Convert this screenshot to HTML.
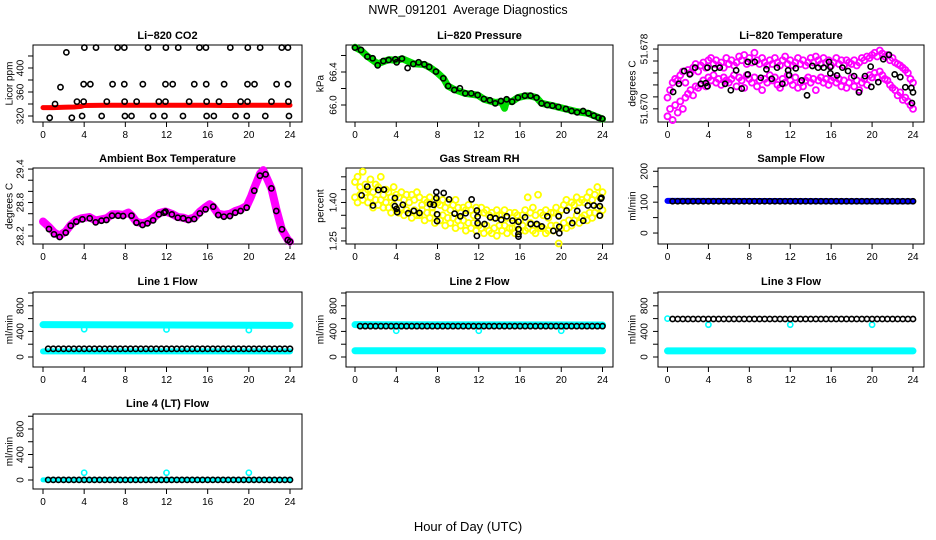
<!DOCTYPE html>
<html><head><meta charset="utf-8"><style>
html,body{margin:0;padding:0;background:#fff;}
svg{display:block;font-family:"Liberation Sans",Arial,sans-serif;}
</style></head><body>
<svg id="c" width="936" height="540" viewBox="0 0 936 540" xmlns="http://www.w3.org/2000/svg">
<text x="468" y="14" text-anchor="middle" font-size="12.5" style="white-space:pre">NWR_091201  Average Diagnostics</text>
<text x="468" y="531" text-anchor="middle" font-size="13">Hour of Day (UTC)</text>
</svg>
<script>
// ---------- data ----------
const xTicks = [0,4,8,12,16,20,24];
const hh = [0.5,1,1.5,2,2.5,3,3.5,4,4.5,5,5.5,6,6.5,7,7.5,8,8.5,9,9.5,10,10.5,11,11.5,12,12.5,13,13.5,14,14.5,15,15.5,16,16.5,17,17.5,18,18.5,19,19.5,20,20.5,21,21.5,22,22.5,23,23.5,24];
const qh = [0,0.25,0.5,0.75,1,1.25,1.5,1.75,2,2.25,2.5,2.75,3,3.25,3.5,3.75,4,4.25,4.5,4.75,5,5.25,5.5,5.75,6,6.25,6.5,6.75,7,7.25,7.5,7.75,8,8.25,8.5,8.75,9,9.25,9.5,9.75,10,10.25,10.5,10.75,11,11.25,11.5,11.75,12,12.25,12.5,12.75,13,13.25,13.5,13.75,14,14.25,14.5,14.75,15,15.25,15.5,15.75,16,16.25,16.5,16.75,17,17.25,17.5,17.75,18,18.25,18.5,18.75,19,19.25,19.5,19.75,20,20.25,20.5,20.75,21,21.25,21.5,21.75,22,22.25,22.5,22.75,23,23.25,23.5,23.75,24];

// CO2
const co2RedHrs = [0,1,2,3,3.7,4,6,8,10,12,14,16,18,20,22,24];
const co2RedVals = [334,334,334.5,335,336,337.5,338,338,338,338,338,338,337.5,338,338,338];
const co2Hrs = [2.27,4.02,5.15,7.25,7.9,10.2,11.94,13.14,15.2,15.83,18.2,19.9,21.1,23.2,23.8,
 1.7,3.95,4.6,6.76,7.9,9.7,11.9,12.6,14.7,15.86,17.6,19.87,20.55,22.7,23.8,
 1.17,3.3,3.95,6.2,7.93,9.1,11.26,11.9,14.2,15.9,17.1,19.2,19.87,22.2,23.85,
 0.65,2.8,3.8,5.7,7.96,8.6,10.7,11.8,13.6,15.9,16.6,18.7,19.8,21.6,23.9];
const co2Vals = [426,434,434,434,434,434,434,434,434,434,434,434,434,434,434,
 368,373,373,373,373,373,373,373,373,373,373,373,373,373,373,
 340,344,344,344,344,344,344,344,344,344,344,344,344,344,344,
 317,317,320,320,320,320,320,320,320,320,320,320,320,320,320];

// Pressure
const presHrs = [0,0.58,1.2,1.71,2.2,2.75,3.26,3.91,4.04,4.55,5.1,5.65,6.17,6.72,7.2,7.85,8.56,9.04,9.63,10.17,10.69,11.27,11.89,12.5,13.08,13.6,14.15,14.7,15.24,15.8,16.47,17.02,17.6,18.09,18.64,19.15,19.73,20.45,21.0,21.54,22.12,22.64,23.16,23.61,23.97];
const presVals = [66.695,66.667,66.586,66.566,66.481,66.533,66.545,66.554,66.517,66.562,66.448,66.497,66.517,66.493,66.461,66.404,66.323,66.230,66.182,66.202,66.141,66.141,66.121,66.073,66.057,66.020,66.048,66.069,66.040,66.089,66.113,66.113,66.089,66.020,66.000,65.992,65.976,65.952,65.927,65.911,65.927,65.899,65.871,65.846,65.834];
const presGreenHrs = [0,0.6,1.2,2.2,3.3,4.0,4.6,5.7,6.7,7.2,7.9,8.6,9.0,9.6,10.7,11.9,12.5,13.6,14.2,14.5,14.7,15.2,15.8,16.5,17.0,17.6,18.1,19.2,20.5,21.5,22.6,23.2,24.0];
const presGreenVals = [66.70,66.66,66.59,66.50,66.55,66.54,66.56,66.50,66.49,66.46,66.40,66.32,66.23,66.19,66.14,66.12,66.07,66.03,66.04,65.96,66.05,66.04,66.09,66.11,66.11,66.09,66.02,65.99,65.95,65.92,65.90,65.87,65.83];

// Li-820 temperature
const tempHrs = [0.55,1.11,1.63,2.18,2.7,3.26,3.74,3.91,3.91,4.62,5.11,5.63,6.19,6.71,7.26,7.85,7.85,8.53,9.12,9.67,10.19,10.71,11.23,11.79,11.89,12.54,13.12,13.64,14.16,14.72,15.27,15.79,15.92,15.92,16.57,17.1,17.65,18.24,18.72,19.31,19.86,19.93,20.61,21.1,21.65,22.21,22.76,23.25,23.84,24.0,23.9];
const tempVals = [51.67226,51.67335,51.67506,51.67461,51.67551,51.67335,51.67344,51.67551,51.67303,51.67542,51.67551,51.67335,51.67249,51.67515,51.67271,51.67628,51.67461,51.67628,51.67416,51.67529,51.67402,51.67551,51.67335,51.67515,51.67452,51.67542,51.67380,51.67181,51.67574,51.67551,51.67551,51.67628,51.67560,51.67475,51.67447,51.67551,51.67506,51.67438,51.67221,51.67438,51.67565,51.67294,51.67357,51.67664,51.67723,51.67461,51.67425,51.67289,51.67280,51.67221,51.67077];
const tempCloudHi = [51.6715,51.6725,51.6735,51.6740,51.6738,51.6745,51.6750,51.6735,51.6752,51.6748,51.6755,51.6760,51.6750,51.6758,51.6762,51.6755,51.6765,51.6768,51.6760,51.6765,51.6758,51.6762,51.6755,51.6768,51.6760,51.6765,51.6758,51.6762,51.6770,51.6765,51.6772,51.6760,51.6768,51.6762,51.6775,51.6765,51.6760,51.6768,51.6762,51.6758,51.6765,51.6760,51.6768,51.6762,51.6758,51.6765,51.6770,51.6760,51.6765,51.6758,51.6762,51.6768,51.6760,51.6765,51.6758,51.6762,51.6768,51.6762,51.6770,51.6765,51.6760,51.6768,51.6762,51.6765,51.6758,51.6762,51.6768,51.6760,51.6765,51.6758,51.6765,51.6762,51.6760,51.6765,51.6758,51.6762,51.6768,51.6765,51.6770,51.6768,51.6772,51.6775,51.6770,51.6778,51.6774,51.6770,51.6772,51.6765,51.6768,51.6762,51.6760,51.6758,51.6755,51.6752,51.6748,51.6740,51.6735];
const tempCloudLo = [51.6690,51.6700,51.6685,51.6705,51.6695,51.6710,51.6700,51.6715,51.6720,51.6725,51.6718,51.6730,51.6728,51.6732,51.6738,51.6730,51.6742,51.6738,51.6745,51.6735,51.6740,51.6732,51.6742,51.6738,51.6735,51.6740,51.6745,51.6730,51.6742,51.6738,51.6728,51.6745,51.6740,51.6735,51.6742,51.6730,51.6738,51.6725,51.6740,51.6735,51.6745,51.6738,51.6742,51.6732,51.6728,51.6740,51.6735,51.6745,51.6738,51.6732,51.6742,51.6728,51.6735,51.6730,51.6738,51.6742,51.6735,51.6740,51.6725,51.6738,51.6742,51.6735,51.6740,51.6732,51.6738,51.6742,51.6735,51.6740,51.6730,51.6738,51.6728,51.6735,51.6742,51.6730,51.6738,51.6725,51.6735,51.6740,51.6732,51.6745,51.6742,51.6748,51.6742,51.6750,51.6745,51.6740,51.6738,51.6732,51.6728,51.6725,51.6718,51.6722,51.6712,51.6715,51.6710,51.6705,51.6700];

// Ambient box temperature
const ambHrs = [0.58,1.07,1.62,2.21,2.69,3.24,3.83,4.54,5.12,5.68,6.16,6.71,7.3,7.78,8.6,9.08,9.67,10.15,10.7,11.26,11.77,11.9,12.52,13.1,13.62,14.14,14.69,15.24,15.8,16.54,17.03,17.58,18.16,18.68,19.2,19.79,20.53,21.08,21.63,22.19,22.67,23.22,23.78,24.0];
const ambVals = [28.325,28.23,28.182,28.26,28.385,28.457,28.499,28.517,28.445,28.475,28.487,28.564,28.564,28.558,28.564,28.439,28.397,28.427,28.481,28.588,28.618,28.636,28.588,28.528,28.517,28.487,28.505,28.606,28.678,28.726,28.576,28.546,28.558,28.618,28.648,28.708,29.012,29.281,29.305,29.054,28.648,28.32,28.128,28.098];
const ambBandHrs = [0,0.6,1.1,1.6,2.2,2.7,3.2,3.8,4.5,5.1,5.7,6.2,6.7,7.3,7.8,8.3,8.6,9.1,9.7,10.2,10.7,11.3,11.9,12.5,13.1,13.6,14.1,14.7,15.2,15.8,16.2,16.5,17.0,17.6,18.2,18.7,19.2,19.8,20.2,20.5,21.1,21.4,21.6,22.2,22.7,23.2,23.8,24.0];
const ambBandVals = [28.46,28.36,28.26,28.21,28.28,28.40,28.48,28.52,28.54,28.48,28.50,28.52,28.59,28.59,28.58,28.62,28.57,28.45,28.43,28.46,28.52,28.61,28.64,28.60,28.54,28.53,28.50,28.53,28.63,28.72,28.77,28.73,28.60,28.58,28.60,28.65,28.68,28.74,28.90,29.05,29.32,29.38,29.30,29.05,28.66,28.32,28.13,28.10];

// Gas stream RH
const rhHrs = [0.64,1.19,1.74,2.26,2.8,3.87,3.87,4.03,4.09,4.64,5.15,5.7,6.25,7.28,7.64,7.89,7.89,7.96,7.96,8.6,9.12,9.66,10.21,10.73,11.31,11.82,11.82,11.89,11.89,12.56,13.11,13.63,14.18,14.72,15.27,15.85,15.85,15.85,15.85,16.49,17.04,17.62,18.11,18.65,19.23,19.75,19.81,19.81,20.52,21.07,21.55,22.13,22.58,23.16,23.74,23.74,23.84,23.9];
const rhVals = [1.4277,1.4619,1.3881,1.4487,1.4501,1.4171,1.3855,1.3750,1.3618,1.3908,1.3578,1.3671,1.3592,1.3934,1.3908,1.4408,1.4171,1.3539,1.3275,1.4369,1.4119,1.3565,1.3460,1.3578,1.4119,1.3684,1.2696,1.3447,1.3196,1.3157,1.3420,1.3381,1.3328,1.3460,1.3289,1.3249,1.2959,1.2762,1.2669,1.3420,1.3157,1.3157,1.3065,1.3460,1.2893,1.3460,1.2801,1.3051,1.3684,1.3196,1.3671,1.3289,1.3881,1.3881,1.3855,1.3486,1.4145,1.4185];
const rhCloudHi = [1.48,1.50,1.46,1.52,1.47,1.45,1.49,1.44,1.47,1.46,1.50,1.43,1.45,1.44,1.42,1.46,1.43,1.42,1.44,1.41,1.43,1.40,1.43,1.41,1.44,1.42,1.39,1.41,1.40,1.42,1.38,1.41,1.40,1.39,1.41,1.38,1.40,1.37,1.39,1.41,1.38,1.36,1.38,1.37,1.39,1.37,1.35,1.38,1.36,1.38,1.36,1.37,1.35,1.36,1.34,1.37,1.35,1.35,1.37,1.34,1.36,1.34,1.36,1.35,1.33,1.35,1.37,1.42,1.36,1.38,1.35,1.43,1.36,1.35,1.37,1.34,1.36,1.36,1.38,1.35,1.37,1.39,1.41,1.38,1.40,1.39,1.42,1.40,1.41,1.40,1.42,1.44,1.41,1.43,1.46,1.42,1.44];
const rhCloudLo = [1.42,1.40,1.43,1.41,1.44,1.40,1.42,1.38,1.41,1.39,1.41,1.38,1.40,1.38,1.36,1.39,1.37,1.36,1.38,1.35,1.37,1.36,1.34,1.37,1.35,1.35,1.37,1.33,1.36,1.34,1.36,1.32,1.35,1.33,1.35,1.31,1.34,1.32,1.34,1.30,1.33,1.31,1.33,1.29,1.32,1.30,1.32,1.29,1.31,1.30,1.28,1.31,1.29,1.28,1.30,1.27,1.31,1.29,1.31,1.28,1.30,1.30,1.28,1.31,1.29,1.31,1.29,1.30,1.32,1.29,1.28,1.31,1.30,1.30,1.28,1.29,1.31,1.29,1.31,1.24,1.30,1.32,1.30,1.33,1.31,1.33,1.35,1.32,1.34,1.35,1.33,1.36,1.34,1.36,1.38,1.35,1.37];

// Flows
const bandHrs = [0,24];
const dipHrs = [4,12,20];
const sampBand = [104,103];
const sampBlack = [103,103,103,103,103,103,103,103,103,103,103,103,103,103,103,103,103,103,103,103,103,103,103,103,103,103,103,103,103,103,103,103,103,103,103,103,103,103,103,103,103,103,103,103,103,103,103,103];
const l1Hi = [505,495];
const l1Lo = [88,88];
const l1Dip = [435,430,420];
const l1Black = [128,128,128,128,128,128,128,128,128,128,128,128,128,128,128,128,128,128,128,128,128,128,128,128,128,128,128,128,128,128,128,128,128,128,128,128,128,128,128,128,128,128,128,128,128,128,128,128];
const l2Hi = [505,500];
const l2Lo = [98,98];
const l2Dip = [410,410,410];
const l2Black = [482,482,482,482,482,482,482,482,482,482,482,482,482,482,482,482,482,482,482,482,482,482,482,482,482,482,482,482,482,482,482,482,482,482,482,482,482,482,482,482,482,482,482,482,482,482,482,482];
const l3Lo = [95,95];
const l3Dip = [505,505,505];
const l3Black = [594,594,594,594,594,594,594,594,594,594,594,594,594,594,594,594,594,594,594,594,594,594,594,594,594,594,594,594,594,594,594,594,594,594,594,594,594,594,594,594,594,594,594,594,594,594,594,594];
const l4Lo = [3,3];
const l4Dip = [114,114,114];
const l4Black = [2,2,2,2,2,2,2,2,2,2,2,2,2,2,2,2,2,2,2,2,2,2,2,2,2,2,2,2,2,2,2,2,2,2,2,2,2,2,2,2,2,2,2,2,2,2,2,2];

// ---------- drawing ----------
const svg = document.getElementById('c');
const NS = 'http://www.w3.org/2000/svg';
function mk(tag, attrs, parent){const e=document.createElementNS(NS,tag);for(const k in attrs)e.setAttribute(k,attrs[k]);(parent||svg).appendChild(e);return e;}

const cols = [{x0:33,x1:302,t0:43,t24:290,ylabX:9,ytX:20},{x0:346,x1:613,t0:355,t24:602.5,ylabX:320,ytX:333},{x0:658,x1:924,t0:667.5,t24:913,ylabX:632,ytX:644}];
const rows = [{y0:45,y1:122,title:35},{y0:168,y1:244,title:158},{y0:292,y1:367,title:281},{y0:414,y1:489,title:403}];

function panel(name,title,ci,ri,ymin,ymax,ticks,labels,ylab){
  const c=cols[ci],r=rows[ri];
  const g=mk('g',{});
  
  
  const p={g,sx:h=>c.t0+h*(c.t24-c.t0)/24,sy:v=>r.y1-(v-ymin)/(ymax-ymin)*(r.y1-r.y0)};
  const cx=(c.x0+c.x1)/2;
  const t=mk('text',{x:cx,y:r.title+4,'text-anchor':'middle','font-size':11,'font-weight':'bold'},g);
  t.textContent=title;
  
  
  const box=mk('rect',{x:c.x0,y:r.y0,width:c.x1-c.x0,height:r.y1-r.y0,fill:'none',stroke:'#000','stroke-width':1},g);
  
  
  xTicks.forEach(h=>{const x=p.sx(h);mk('line',{x1:x,y1:r.y1,x2:x,y2:r.y1+5,stroke:'#000'},g);
    const l=mk('text',{x:x,y:r.y1+16,'text-anchor':'middle','font-size':10},g);l.textContent=h;
    
    });
  ticks.forEach((v,i)=>{const y=p.sy(v);mk('line',{x1:c.x0,y1:y,x2:c.x0-5,y2:y,stroke:'#000'},g);
    if(labels[i]){const l=mk('text',{x:c.ytX,y:y,'text-anchor':'middle','font-size':10,transform:`rotate(-90 ${c.ytX} ${y})`,dy:'0.35em'},g);l.textContent=labels[i];
    
    }});
  const yl=mk('text',{x:c.ylabX,y:(r.y0+r.y1)/2,'text-anchor':'middle','font-size':10,transform:`rotate(-90 ${c.ylabX} ${(r.y0+r.y1)/2})`,dy:'0.35em'},g);
  yl.textContent=ylab;
  
  
  const clip=mk('g',{},g);
  p.layer=clip;
  return p;
}
function pts(p,hs,vs,color,rad,sw,nm){
  hs.forEach((h,i)=>{const e=mk('circle',{cx:p.sx(h),cy:p.sy(vs[i]),r:rad,fill:'none',stroke:color,'stroke-width':sw},p.layer);
    
    });
}
function band(p,hs,vs,color,w,nm){
  const e=mk('polyline',{points:hs.map((h,i)=>p.sx(h)+','+p.sy(vs[i])).join(' '),fill:'none',stroke:color,'stroke-width':w,'stroke-linejoin':'round','stroke-linecap':'round'},p.layer);
  
  
}
const R=2.6,SW=1.6;

let p=panel('co2','Li\u2212820 CO2',0,0,310,438.3,[320,340,360,380,400,420],['320','','360','','400',''],'Licor ppm');
band(p,co2RedHrs,co2RedVals,'#ff0000',5,'co2-red-band');
pts(p,co2Hrs,co2Vals,'#000',R,SW,'co2-point');

p=panel('pressure','Li\u2212820 Pressure',1,0,65.794,66.727,[66.0,66.2,66.4,66.6],['66.0','','66.4',''],'kPa');
band(p,presGreenHrs,presGreenVals,'#00dd00',7,'pressure-green-band');
pts(p,presHrs,presVals,'#000',R,SW,'pressure-point');

p=panel('li820-temp','Li\u2212820 Temperature',2,0,51.66824,51.67854,[51.670,51.6716,51.6732,51.6748,51.6764,51.678],['51.670','','','','','51.678'],'degrees C');
pts(p,qh,tempCloudLo,'#ff00ff',3,1.8,'temp-cloud-point');
pts(p,qh,tempCloudHi,'#ff00ff',3,1.8,'temp-cloud-point');
pts(p,tempHrs,tempVals,'#000',R,SW,'temp-point');

p=panel('ambient','Ambient Box Temperature',0,1,28.057,29.419,[28.2,28.4,28.6,28.8,29.0,29.2,29.4],['28.2','','','28.8','','','29.4'],'degrees C');
band(p,ambBandHrs,ambBandVals,'#ff00ff',8,'ambient-magenta-band');
pts(p,ambHrs,ambVals,'#000',R,SW,'ambient-point');

p=panel('rh','Gas Stream RH',1,1,1.238,1.5344,[1.25,1.30,1.35,1.40,1.45,1.50],['1.25','','','1.40','',''],'percent');
pts(p,qh,rhCloudLo,'#ffff00',3,1.8,'rh-cloud-point');
pts(p,qh,rhCloudHi,'#ffff00',3,1.8,'rh-cloud-point');
pts(p,rhHrs,rhVals,'#000',R,SW,'rh-point');

p=panel('sample-flow','Sample Flow',2,1,-35.5,210.6,[0,50,100,150,200],['0','','100','','200'],'ml/min');
band(p,bandHrs,sampBand,'#0000ff',6,'sample-flow-blue-band');
pts(p,hh,sampBlack,'#000',R,SW,'sample-flow-point');

const fT=[0,200,400,600,800,1000],fL=['0','','400','','800',''];
p=panel('line1','Line 1 Flow',0,2,-156,1015.6,fT,fL,'ml/min');
band(p,bandHrs,l1Hi,'#00ffff',7,'line1-cyan-high');
band(p,bandHrs,l1Lo,'#00ffff',6,'line1-cyan-low');
pts(p,dipHrs,l1Dip,'#00ffff',R,SW,'line1-cyan-dip');
pts(p,hh,l1Black,'#000',R,SW,'line1-point');

p=panel('line2','Line 2 Flow',1,2,-156,1015.6,fT,fL,'ml/min');
band(p,bandHrs,l2Hi,'#00ffff',7,'line2-cyan-high');
band(p,bandHrs,l2Lo,'#00ffff',7,'line2-cyan-low');
pts(p,dipHrs,l2Dip,'#00ffff',R,SW,'line2-cyan-dip');
pts(p,hh,l2Black,'#000',R,SW,'line2-point');

p=panel('line3','Line 3 Flow',2,2,-156,1015.6,fT,fL,'ml/min');
band(p,bandHrs,l3Lo,'#00ffff',7,'line3-cyan-low');
pts(p,dipHrs,l3Dip,'#00ffff',R,SW,'line3-cyan-dip');
pts(p,[0],[600],'#00ffff',R,SW,'line3-cyan-start');
pts(p,hh,l3Black,'#000',R,SW,'line3-point');

p=panel('line4','Line 4 (LT) Flow',0,3,-141,1035,fT,fL,'ml/min');
band(p,bandHrs,l4Lo,'#00ffff',5,'line4-cyan-low');
pts(p,dipHrs,l4Dip,'#00ffff',R,SW,'line4-cyan-spike');
pts(p,hh,l4Black,'#000',R,SW,'line4-point');
</script>
</body></html>
